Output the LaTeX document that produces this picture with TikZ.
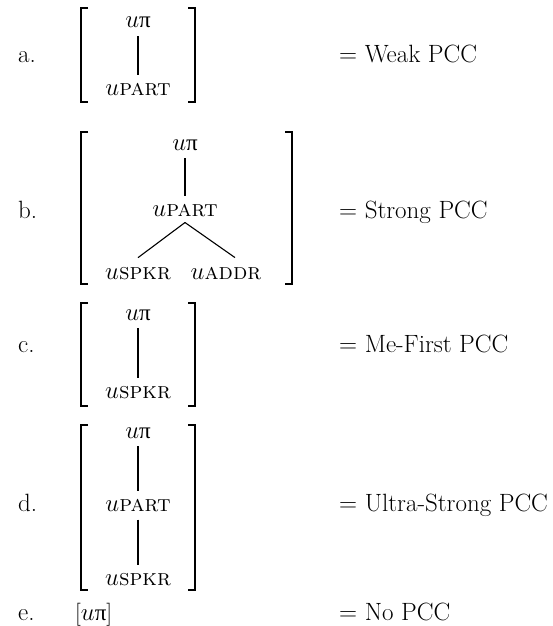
\documentclass[tikz,border=0pt]{standalone}
\usepackage{fontspec}
\newfontfamily\grkfont{Liberation Serif}
\newcommand\bigfs{\fontsize{23}{27}\selectfont}
\newcommand\lblfs{\fontsize{25}{29}\selectfont}
\newcommand\upi{$u${\grkfont π}}
\newcommand\ufeat[1]{$u$\textsc{#1}}
\begin{document}
\begin{tikzpicture}[x=1pt,y=-1pt,
  lbl/.style={anchor=base west, inner sep=0pt, font=\lblfs},
  feat/.style={anchor=base, inner sep=0pt, font=\bigfs},
  edge/.style={line width=1.1pt, shorten <=8pt, shorten >=8pt},
  branch/.style={line width=1.1pt},
  brk/.style={line width=2.2pt}]
\useasboundingbox (0,0) rectangle (553,626);

% ---- a ----
\node[lbl] (la) at (18,63) {a.};
\node[feat] (a1) at (138,28) {\upi};
\node[feat] (a2) at (138,95) {\ufeat{part}};
\draw[edge] (a1) -- (a2);
\draw[brk] (88,8) -- (81,8) -- (81,102) -- (88,102);
\draw[brk] (188,8) -- (195,8) -- (195,102) -- (188,102);
\node[lbl] (ra) at (339,63) {= Weak PCC};

% ---- b ----
\node[lbl] (lb) at (18,218) {b.};
\node[feat] (b1) at (185,150) {\upi};
\node[feat] (b2) at (185,216) {\ufeat{part}};
\node[feat] (b3) at (138,279) {\ufeat{spkr}};
\node[feat] (b4) at (226,279) {\ufeat{addr}};
\draw[edge] (b1) -- (b2);
\draw[branch] ([yshift=-6pt]b2.south) -- ([yshift=9pt]b3.north);
\draw[branch] ([yshift=-6pt]b2.south) -- ([xshift=9pt,yshift=9pt]b4.north);
\draw[brk] (88,132) -- (81,132) -- (81,284) -- (88,284);
\draw[brk] (285,132) -- (292,132) -- (292,284) -- (285,284);
\node[lbl] (rb) at (339,218) {= Strong PCC};

% ---- c ----
\node[lbl] (lc) at (18,352) {c.};
\node[feat] (c1) at (138,320) {\upi};
\node[feat] (c2) at (138,398) {\ufeat{spkr}};
\draw[edge] (c1) -- (c2);
\draw[brk] (88,303) -- (81,303) -- (81,406) -- (88,406);
\draw[brk] (188,303) -- (195,303) -- (195,406) -- (188,406);
\node[lbl] (rc) at (339,352) {= Me-First PCC};

% ---- d ----
\node[lbl] (ld) at (18,511) {d.};
\node[feat] (d1) at (138,438) {\upi};
\node[feat] (d2) at (138,511) {\ufeat{part}};
\node[feat] (d3) at (138,585) {\ufeat{spkr}};
\draw[edge] (d1) -- (d2);
\draw[edge] (d2) -- (d3);
\draw[brk] (88,425) -- (81,425) -- (81,590) -- (88,590);
\draw[brk] (188,425) -- (195,425) -- (195,590) -- (188,590);
\node[lbl] (rd) at (339,511) {= Ultra-Strong PCC};

% ---- e ----
\node[lbl] (le) at (18,620) {e.};
\node[feat, anchor=base west] (e1) at (75,620) {[\upi]};
\node[lbl] (re) at (339,620) {= No PCC};
\end{tikzpicture}
\end{document}
